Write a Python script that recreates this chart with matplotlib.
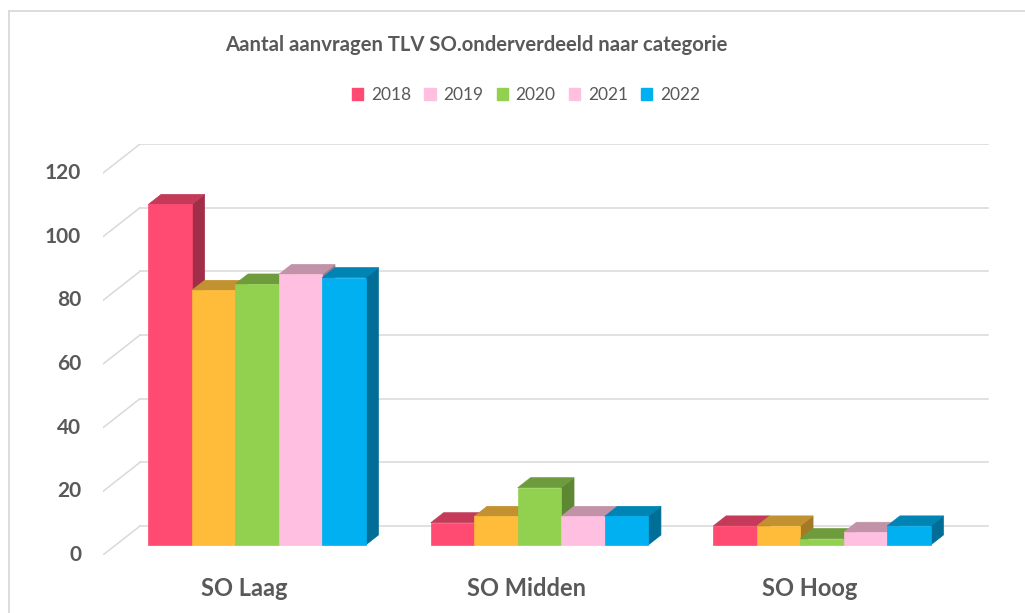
import matplotlib
matplotlib.use("Agg")
import matplotlib.pyplot as plt
from matplotlib.patches import Polygon, Patch
from matplotlib.lines import Line2D

categories = ["SO Laag", "SO Midden", "SO Hoog"]
years = ["2018", "2019", "2020", "2021", "2022"]
values = {
    "2018": [107, 7, 6],
    "2019": [80, 9, 6],
    "2020": [82, 18, 2],
    "2021": [85, 9, 4],
    "2022": [84, 9, 6],
}
yticks = [0, 20, 40, 60, 80, 100, 120]

front_colors = ["#FF4A71", "#FFBB3A", "#92D050", "#FFBFE0", "#00B0F0"]
top_colors = ["#C43A58", "#C29130", "#6E9C3C", "#C293A8", "#0084B4"]
side_colors = ["#A12E49", "#A37A28", "#5E8733", "#A07B8D", "#006E96"]
legend_colors = ["#FF4A71", "#FFBFE0", "#92D050", "#FFBFE0", "#00B0F0"]

W, H = 1025, 613
fig = plt.figure(figsize=(W / 100, H / 100), dpi=100)
fig.patch.set_facecolor("white")

FONT = ["Lato", "DejaVu Sans"]
GRAY = "#595959"
GRID = "#D9D9D9"

# axes placement in pixels
px_left, px_right, px_bottom, px_top = 103, 989, 555, 144
ax = fig.add_axes([px_left / W, (H - px_bottom) / H,
                   (px_right - px_left) / W, (px_bottom - px_top) / H])
cat_px = 282.5
val_px = 3.183
xmin = -0.5
xmax = xmin + (px_right - px_left) / cat_px
ymax = (px_bottom - px_top) / val_px
ax.set_xlim(xmin, xmax)
ax.set_ylim(0, ymax)
ax.axis("off")

# depth of floor in data units
Dx = 37 / cat_px
Dy = 29 / val_px
f0, f1 = 0.345, 0.69

# gridlines (back wall + side wall diagonals)
for v in yticks:
    ax.add_line(Line2D([xmin, xmin + Dx], [v, v + Dy], color=GRID, lw=1.1, zorder=1))
    ax.add_line(Line2D([xmin + Dx, 2.5 + Dx], [v + Dy, v + Dy], color=GRID, lw=1.1, zorder=1))
    ax.text(xmin - 22 / cat_px, v, str(v), ha="right", va="center",
            fontsize=15, fontweight="bold", color=GRAY, family=FONT)

n = len(years)
w = 1 / 6.5
z = 2
for i, cat in enumerate(categories):
    for j, yr in enumerate(years):
        v = values[yr][i]
        xl = i + (j - n / 2) * w
        xr = xl + w
        ax0, ay0 = f0 * Dx, f0 * Dy
        ax1, ay1 = f1 * Dx, f1 * Dy
        front = Polygon([(xl + ax0, ay0), (xr + ax0, ay0), (xr + ax0, v + ay0), (xl + ax0, v + ay0)],
                        closed=True, facecolor=front_colors[j], edgecolor=front_colors[j], lw=0.5, zorder=z)
        top = Polygon([(xl + ax0, v + ay0), (xr + ax0, v + ay0), (xr + ax1, v + ay1), (xl + ax1, v + ay1)],
                      closed=True, facecolor=top_colors[j], edgecolor=top_colors[j], lw=0.5, zorder=z)
        side = Polygon([(xr + ax0, ay0), (xr + ax1, ay1), (xr + ax1, v + ay1), (xr + ax0, v + ay0)],
                       closed=True, facecolor=side_colors[j], edgecolor=side_colors[j], lw=0.5, zorder=z)
        for p in (side, top, front):
            ax.add_patch(p)
        z += 1
    ax.text(i, -33 / val_px, cat, ha="center", va="center", fontsize=17,
            fontweight="bold", color=GRAY, family=FONT)

# title
fig.text(476 / W, 1 - 45 / H, "Aantal aanvragen TLV SO.onderverdeeld naar categorie",
         ha="center", va="center", fontsize=14.6, fontweight="bold", color=GRAY, family=FONT)

# legend
handles = [Patch(facecolor=c, edgecolor=c) for c in legend_colors]
leg = fig.legend(handles, years, loc="center", bbox_to_anchor=(526 / W, 1 - 95 / H), ncol=5,
                 frameon=False, handlelength=0.65, handleheight=0.65, handletextpad=0.45,
                 columnspacing=0.75, prop={"family": FONT, "size": 12.5})
for t in leg.get_texts():
    t.set_color(GRAY)

# chart border (left and top visible)
fig.add_artist(Line2D([9 / W, 9 / W], [0, 1 - 11 / H], color=GRID, lw=1.3))
fig.add_artist(Line2D([9 / W, 1], [1 - 11 / H, 1 - 11 / H], color=GRID, lw=1.3))

fig.savefig("out.png", dpi=100, facecolor="white")
